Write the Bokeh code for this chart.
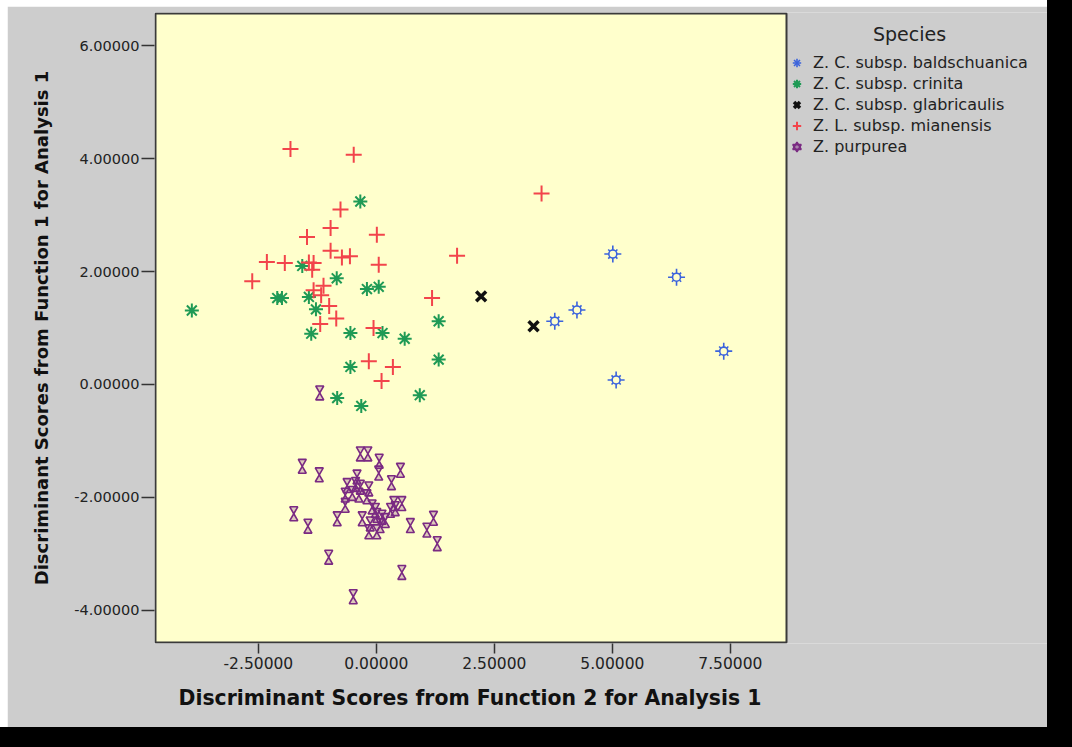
from bokeh.plotting import figure
from bokeh.models import (ColumnDataSource, Range1d, FixedTicker, Legend,
                          LegendItem, Label, Title, BoxAnnotation, Div)
from bokeh.layouts import row, column
from bokeh.transform import dodge
from bokeh.embed import file_html
from bokeh.resources import INLINE

# ---------------- data ----------------
species = ["Z. C. subsp. baldschuanica", "Z. C. subsp. crinita",
           "Z. C. subsp. glabricaulis", "Z. L. subsp. mianensis", "Z. purpurea"]

bald_x = [5.01, 6.36, 4.25, 3.78, 7.36, 5.08]
bald_y = [2.31, 1.90, 1.32, 1.12, 0.59, 0.08]

crin_x = [-0.34, -1.57, -0.84, -0.20, 0.05, -2.10, -2.00, -1.43, -1.28, -3.91,
          1.32, -1.38, -0.55, 0.13, 0.60, 1.32, -0.55, -0.83, -0.32, 0.92]
crin_y = [3.24, 2.10, 1.88, 1.69, 1.73, 1.53, 1.53, 1.55, 1.33, 1.31,
          1.12, 0.90, 0.91, 0.91, 0.81, 0.44, 0.31, -0.24, -0.38, -0.19]

glab_x = [2.22, 3.33]
glab_y = [1.56, 1.03]

mian_x = [-1.82, -0.48, 3.50, -0.76, -0.97, -1.47, 0.01, -0.97, -0.73, -0.56,
          0.05, 1.71, -2.32, -1.94, -1.43, -1.33, -1.36, -2.63, -1.12, -1.33,
          -1.17, 1.18, -1.00, -0.85, -1.19, -0.06, -0.16, 0.35, 0.11]
mian_y = [4.17, 4.07, 3.38, 3.10, 2.77, 2.61, 2.65, 2.37, 2.25, 2.27,
          2.12, 2.28, 2.17, 2.15, 2.16, 2.15, 2.03, 1.83, 1.75, 1.67,
          1.58, 1.53, 1.39, 1.17, 1.07, 1.00, 0.41, 0.31, 0.06]

purp_x = [-1.20, -1.57, -1.21, -0.34, -0.18, 0.06, 0.05, 0.51, 0.32, -0.41,
          -0.62, -0.44, -0.34, -0.16, -0.66, -0.51, -0.37, -0.20, -0.66, -0.09,
          -0.02, 0.37, 0.54, 0.30, 0.40, -0.83, -0.30, 0.01, 0.12, 0.19,
          -0.13, 0.08, 0.72, -0.16, 0.01, 1.07, 1.21, 1.29, -1.75, -1.45,
          -1.01, 0.54, -0.49]
purp_y = [-0.15, -1.45, -1.60, -1.23, -1.23, -1.36, -1.57, -1.52, -1.74, -1.64,
          -1.79, -1.77, -1.82, -1.85, -1.96, -1.93, -1.96, -1.99, -2.14, -2.17,
          -2.23, -2.11, -2.11, -2.23, -2.20, -2.38, -2.38, -2.32, -2.35, -2.41,
          -2.47, -2.50, -2.50, -2.61, -2.61, -2.58, -2.37, -2.82, -2.29, -2.51,
          -3.06, -3.33, -3.76]

x_ticks = [-2.5, 0.0, 2.5, 5.0, 7.5]
x_tick_labels = ["-2.50000", "0.00000", "2.50000", "5.00000", "7.50000"]
y_ticks = [-4, -2, 0, 2, 4, 6]
y_tick_labels = ["-4.00000", "-2.00000", "0.00000", "2.00000", "4.00000", "6.00000"]

x_title = "Discriminant Scores from Function 2 for Analysis 1"
y_title = "Discriminant Scores from Function 1 for Analysis 1"
legend_title = "Species"

# plotted (yellow) region and full frame extents
X0, X1 = -4.68, 8.69
Y0, Y1 = -4.57, 6.57
FX0, FX1 = -4.701, 14.22
FY0, FY1 = -4.588, 6.588

# ---------------- styles ----------------
BLUE = "#3b63dc"
GREEN = "#1f9a55"
BLACK = "#111111"
RED = "#f2444b"
PURPLE = "#7a2a82"
PANEL = "#cdcdcd"
PLOTBG = "#ffffcc"
FONT = "DejaVu Sans"

p = figure(width=1040, height=721, margin=(6, 0, 0, 7),
           x_range=Range1d(FX0, FX1), y_range=Range1d(FY0, FY1),
           output_backend="svg", toolbar_location=None,
           min_border_left=147, min_border_right=0,
           min_border_top=6, min_border_bottom=84,
           background_fill_color=PANEL, border_fill_color=PANEL,
           outline_line_color=None, y_axis_label=y_title)
p.grid.visible = False

p.add_layout(BoxAnnotation(left=X0, right=X1, bottom=Y0, top=Y1, fill_color=PLOTBG,
                           fill_alpha=1, line_color="#3a3a3a", line_alpha=1, line_width=2,
                           level="underlay"))

p.xaxis.ticker = FixedTicker(ticks=x_ticks)
p.xaxis.major_label_overrides = dict(zip(x_ticks, x_tick_labels))
p.yaxis.ticker = FixedTicker(ticks=y_ticks)
p.yaxis.major_label_overrides = dict(zip(y_ticks, y_tick_labels))

for ax in (p.xaxis[0], p.yaxis[0]):
    ax.axis_line_color = None
    ax.major_tick_line_color = "#333333"
    ax.major_tick_line_width = 1.5
    ax.major_tick_in = 0
    ax.minor_tick_line_color = None
    ax.major_label_text_font = FONT
    ax.major_label_text_color = "#222222"
    ax.axis_label_text_font = FONT
    ax.axis_label_text_font_style = "bold"
    ax.axis_label_text_color = "#111111"

p.xaxis.major_tick_out = 10
p.xaxis.major_label_standoff = 3
p.xaxis.major_label_text_font_size = "15.5px"

p.yaxis.major_tick_out = 13
p.yaxis.major_label_standoff = 2
p.yaxis.major_label_text_font_size = "14.5px"
p.yaxis.axis_label_standoff = 19
p.yaxis.axis_label_text_font_size = "18px"

# x-axis title, placed under the yellow plotting region
p.add_layout(Title(text=x_title, align="left", offset=24, standoff=24,
                   text_font=FONT, text_font_size="20.4px", text_font_style="bold",
                   text_color="#111111"), "below")

# ---------------- glyphs ----------------
src_b = ColumnDataSource(dict(x=bald_x, y=bald_y))
rb1 = p.scatter("x", "y", source=src_b, marker="cross", size=17, line_color=BLUE, line_width=1.6)
rb2 = p.scatter("x", "y", source=src_b, marker="x", size=13, line_color=BLUE, line_width=1.6)
rb3 = p.scatter("x", "y", source=src_b, marker="circle", size=8, fill_color=PLOTBG,
                line_color=BLUE, line_width=1.6)

src_c = ColumnDataSource(dict(x=crin_x, y=crin_y))
rc = p.scatter("x", "y", source=src_c, marker="asterisk", size=14, line_color=GREEN, line_width=2)

src_g = ColumnDataSource(dict(x=glab_x, y=glab_y))
rg = p.scatter("x", "y", source=src_g, marker="x", size=14, line_color=BLACK, line_width=3.5)

src_m = ColumnDataSource(dict(x=mian_x, y=mian_y))
rm = p.scatter("x", "y", source=src_m, marker="cross", size=16, line_color=RED, line_width=2)

HG_OFF = 0.082  # half-hourglass offset (style)
src_p = ColumnDataSource(dict(x=purp_x, y=purp_y))
rp1 = p.scatter("x", dodge("y", HG_OFF), source=src_p, marker="inverted_triangle", size=8,
                line_color=PURPLE, line_width=1.6, fill_color=PURPLE, fill_alpha=0.25)
rp2 = p.scatter("x", dodge("y", -HG_OFF), source=src_p, marker="triangle", size=8,
                line_color=PURPLE, line_width=1.6, fill_color=PURPLE, fill_alpha=0.25)

legend = Legend(items=[
    LegendItem(label=species[0], renderers=[rb1, rb2]),
    LegendItem(label=species[1], renderers=[rc]),
    LegendItem(label=species[2], renderers=[rg]),
    LegendItem(label=species[3], renderers=[rm]),
    LegendItem(label=species[4], renderers=[rp1, rp2]),
], location=(632, 486), orientation="vertical",
    glyph_width=21, glyph_height=21, label_height=20, spacing=0, padding=0, margin=0,
    label_standoff=6, background_fill_alpha=0, border_line_alpha=0,
    label_text_font=FONT, label_text_font_size="16px",
    label_text_color="#222222", label_text_baseline="middle")
p.add_layout(legend)

p.add_layout(Label(x=755, y=610, x_units="screen", y_units="screen", text=legend_title,
                   text_align="center", text_baseline="middle", text_font=FONT,
                   text_font_size="19px", text_color="#222222"))

right_bar = Div(width=25, height=747, margin=0, styles={"background-color": "#000000"})
bottom_bar = Div(width=1047, height=20, margin=0, styles={"background-color": "#000000"})
layout = row(column(p, bottom_bar), right_bar)

open("out.html", "w").write(file_html(layout, INLINE))
